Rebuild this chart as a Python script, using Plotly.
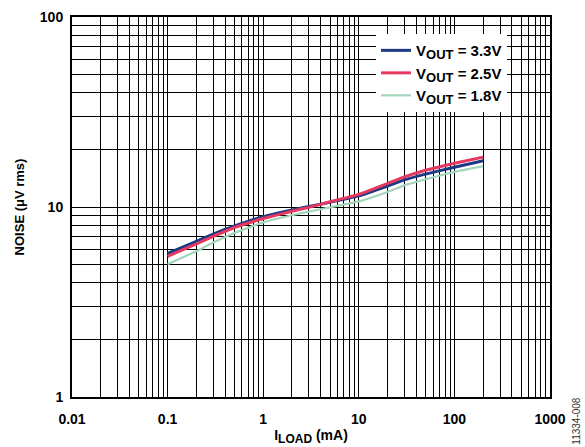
import plotly.graph_objects as go

# Load current (mA) and measured output noise (uV rms) for three output voltages
i_load = [0.1, 0.2, 0.3, 0.5, 1, 2, 3, 5, 10, 20, 30, 50, 100, 200]
noise_3v3 = [5.7, 6.6, 7.2, 7.95, 8.9, 9.65, 10.05, 10.6, 11.45, 12.9, 13.9, 14.9, 16.2, 17.5]
noise_2v5 = [5.5, 6.4, 7.0, 7.8, 8.7, 9.5, 9.95, 10.65, 11.65, 13.3, 14.4, 15.6, 17.0, 18.3]
noise_1v8 = [5.0, 5.85, 6.5, 7.3, 8.3, 9.05, 9.45, 9.95, 10.7, 12.0, 13.0, 14.0, 15.3, 16.4]

SUB_OUT = '<sub><span style="font-size:13px">OUT</span></sub>'
series = [
    (f"V{SUB_OUT} = 3.3V", noise_3v3, "#1b3a84", 3),
    (f"V{SUB_OUT} = 2.5V", noise_2v5, "#e5385f", 3),
    (f"V{SUB_OUT} = 1.8V", noise_1v8, "#a3d5bb", 2.2),
]

x_ticks = [0.01, 0.1, 1, 10, 100, 1000]
x_tick_text = ["0.01", "0.1", "1", "10", "100", "1000"]
y_ticks = [1, 10, 100]
y_tick_text = ["1", "10", "100"]

FONT = "Liberation Sans, Arial, sans-serif"
BOLD14 = dict(family=FONT, size=14, color="#000000", weight="bold")

fig = go.Figure()
for name, vals, color, width in series:
    fig.add_trace(go.Scatter(
        x=i_load, y=vals, mode="lines", name=name,
        line=dict(color=color, width=width, shape="spline", smoothing=0.3),
    ))

axis_common = dict(
    type="log",
    automargin=False,
    showgrid=True, gridcolor="#000000", gridwidth=1.3,
    showline=True, linecolor="#000000", linewidth=2, mirror=True,
    ticks="", zeroline=False,
    tickfont=BOLD14,
    minor=dict(dtick="D1", showgrid=True, gridcolor="#000000", gridwidth=1.3, ticks=""),
)

fig.update_layout(
    width=585, height=447,
    margin=dict(l=72, r=35, t=17, b=50),
    paper_bgcolor="white", plot_bgcolor="white",
    font=dict(family=FONT, color="#000000"),
    showlegend=True,
    legend=dict(
        x=0.636, y=0.955, xanchor="left", yanchor="top",
        bgcolor="white", borderwidth=0,
        font=dict(family=FONT, size=15, color="#000000", weight="bold"),
        tracegroupgap=0, itemwidth=30,
    ),
    xaxis=dict(
        **axis_common,
        range=[-2, 3],
        tickvals=x_ticks, ticktext=x_tick_text,
        ticklabelstandoff=8,
        title=dict(text='I<sub><span style="font-size:12px">LOAD</span></sub> (mA)',
                   standoff=4, font=BOLD14),
    ),
    yaxis=dict(
        **axis_common,
        range=[0, 2],
        tickvals=y_ticks, ticktext=y_tick_text,
        ticklabelstandoff=4,
        title=dict(text="NOISE (μV rms)", standoff=12, font=dict(family=FONT, size=13, color="#000000", weight="bold")),
    ),
)

fig.add_annotation(
    text="11334-008", textangle=-90,
    xref="paper", yref="paper", x=1.055, y=-0.13,
    xanchor="center", yanchor="bottom", showarrow=False,
    font=dict(family=FONT, size=10, color="#333333"),
)

fig.write_html("out.html")
